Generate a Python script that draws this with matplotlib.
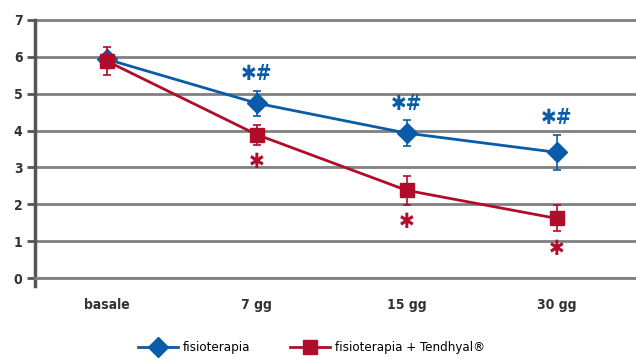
import matplotlib
matplotlib.use("Agg")
import matplotlib.pyplot as plt
from matplotlib.lines import Line2D
from matplotlib import font_manager

categories = ["basale", "7 gg", "15 gg", "30 gg"]
fisio = [5.93, 4.74, 3.93, 3.41]
fisio_err = [0.0, 0.34, 0.35, 0.47]
tend = [5.88, 3.89, 2.38, 1.62]
tend_err = [0.38, 0.27, 0.39, 0.35]
fisio_marks = ["", "✱#", "✱#", "✱#"]
tend_marks = ["", "✱", "✱", "✱"]

BLUE = "#0a5ca8"
RED = "#b00d2a"
GRID = "#808080"

# pick a narrow face if one is around
names = {f.name for f in font_manager.fontManager.ttflist}
narrow = [n for n in ["Liberation Sans Narrow", "DejaVu Sans Condensed"] if n in names]
plt.rcParams["font.family"] = narrow + ["DejaVu Sans"]
plt.rcParams["font.stretch"] = "condensed"

fig = plt.figure(figsize=(6.36, 3.59), dpi=100)
ax = fig.add_axes([0.055, 0.225, 0.945, 0.722])

x = list(range(len(categories)))
ax.errorbar(x, fisio, yerr=fisio_err, color=BLUE, lw=2, marker="D", ms=10,
            capsize=3, elinewidth=1.2, capthick=1.2, zorder=4)
ax.errorbar(x, tend, yerr=tend_err, color=RED, lw=2, marker="s", ms=10,
            capsize=3, elinewidth=1.2, capthick=1.2, zorder=5)

for xi, yi, e, m in zip(x, fisio, fisio_err, fisio_marks):
    if m:
        ax.text(xi, yi + e + 0.18, m, color=BLUE, ha="center", va="bottom",
                fontsize=15, fontweight="bold", family=["DejaVu Sans"])
for xi, yi, e, m in zip(x, tend, tend_err, tend_marks):
    if m:
        ax.text(xi, yi - e - 0.2, m, color=RED, ha="center", va="top",
                fontsize=15, fontweight="bold", family=["DejaVu Sans"])

ax.set_xlim(-0.48, 3.53)
ax.set_ylim(0, 7.02)
ax.set_yticks(range(0, 8))
ax.set_xticks(x)
ax.set_xticklabels(categories)
ax.yaxis.grid(True, color=GRID, lw=2)
ax.set_axisbelow(True)
for s in ["top", "right"]:
    ax.spines[s].set_visible(False)
ax.spines["left"].set_color("#555555")
ax.spines["left"].set_linewidth(2.5)
ax.spines["left"].set_bounds(-0.2, 7)
ax.spines["bottom"].set_color(GRID)
ax.spines["bottom"].set_linewidth(2)
ax.tick_params(axis="y", length=6, width=2, color="#555555", labelsize=10, pad=3)
ax.tick_params(axis="x", length=0, labelsize=10, pad=14)
for lbl in ax.get_yticklabels() + ax.get_xticklabels():
    lbl.set_fontweight("bold")
    lbl.set_color("#333333")
ax.set_clip_on(False)
ax.spines["left"].set_clip_on(False)

handles = [
    Line2D([], [], color=BLUE, lw=2, marker="D", ms=10, label="fisioterapia"),
    Line2D([], [], color=RED, lw=2, marker="s", ms=10, label="fisioterapia + Tendhyal®"),
]
fig.legend(handles=handles, loc="lower center", bbox_to_anchor=(0.49, -0.02), ncol=2,
           frameon=False, fontsize=9.5, handlelength=3, columnspacing=3, handletextpad=0.4)

fig.savefig("out.png")
